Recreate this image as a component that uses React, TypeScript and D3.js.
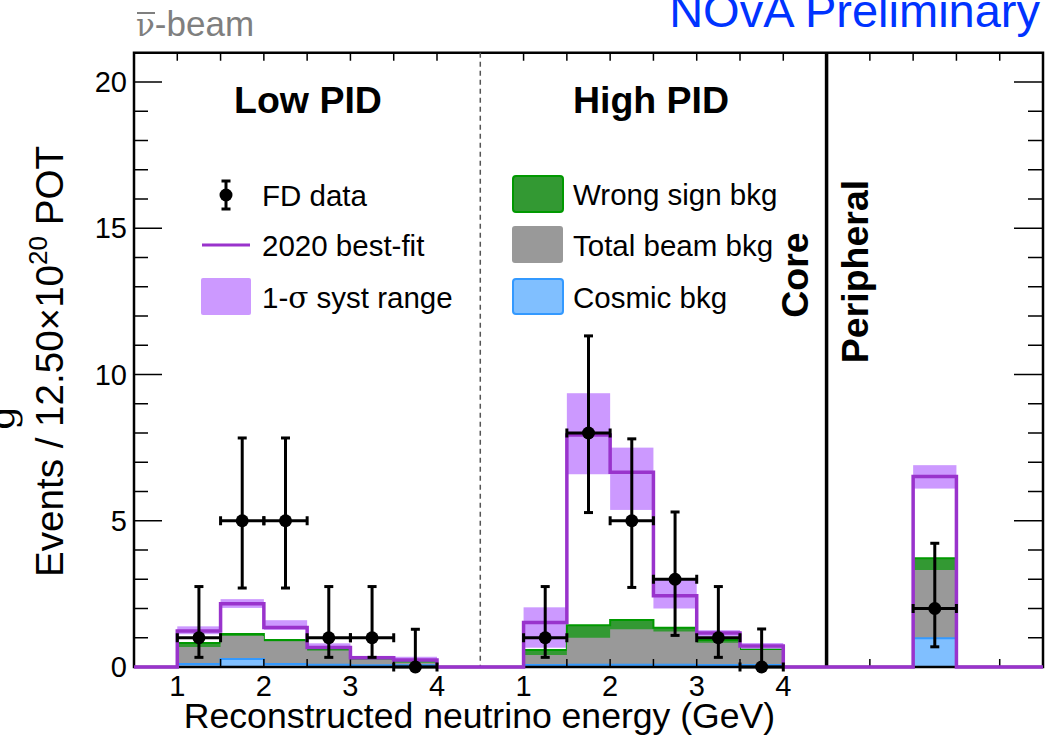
import React from "react";
import * as d3 from "d3";

// ---------- data ----------
const binLowEdges = [1, 1.5, 2, 2.5, 3, 3.5]; // GeV, width 0.5
const binWidth = 0.5;
const energyTickLabels = [1, 2, 3, 4];
const yMajorTicks = [0, 5, 10, 15, 20];

const lowBestFit = [1.23, 2.16, 1.35, 0.67, 0.32, 0.24];
const lowBandHi = [1.39, 2.32, 1.6, 0.81, 0.38, 0.35];
const lowBandLo = [1.12, 2.02, 1.27, 0.6, 0.26, 0.17];
const lowWrongSign = [0.82, 1.13, 0.92, 0.6, 0.28, 0.16];
const lowBeam = [0.68, 1.06, 0.88, 0.56, 0.26, 0.15];
const lowCosmic = [0.1, 0.27, 0.1, 0.08, 0.06, 0.06];
const lowData = [1, 5, 5, 1, 1, 0];
const lowDataLo = [0.33, 2.7, 2.7, 0.33, 0.33, 0];
const lowDataHi = [2.75, 7.83, 7.83, 2.75, 2.75, 1.29];

const highBestFit = [1.52, 7.93, 6.66, 2.44, 1.16, 0.72];
const highBandHi = [2.04, 9.36, 7.5, 3.0, 1.26, 0.82];
const highBandLo = [0.66, 6.59, 5.37, 2.0, 1.04, 0.55];
const highWrongSign = [0.58, 1.43, 1.61, 1.34, 0.92, 0.59];
const highBeam = [0.41, 1.0, 1.29, 1.21, 0.83, 0.58];
const highCosmic = [0.07, 0.08, 0.08, 0.08, 0.07, 0.07];
const highData = [1, 8, 5, 3, 1, 0];
const highDataLo = [0.33, 5.28, 2.72, 1.08, 0.33, 0];
const highDataHi = [2.75, 11.32, 7.8, 5.3, 2.75, 1.3];

const periBestFit = [0, 0, 6.51, 0, 0];
const periBandHi = [0, 0, 6.9, 0, 0];
const periBandLo = [0, 0, 6.1, 0, 0];
const periWrongSign = [0, 0, 3.72, 0, 0];
const periBeam = [0, 0, 3.32, 0, 0];
const periCosmic = [0, 0, 0.98, 0, 0];
const periData = [2];
const periDataLo = [0.69];
const periDataHi = [4.23];
const periDataBin = [2];

// ---------- layout ----------
const W = 1053;
const H = 736;
const FONT = "'Liberation Sans', Arial, Helvetica, sans-serif";
const SERIF = "'DejaVu Serif', 'Liberation Serif', serif";
const PURPLE = "#9933cc";
const LILAC = "#cc99ff";
const GREEN = "#339933";
const GREEN_LINE = "#009900";
const GRAY = "#999999";
const BLUE = "#80bfff";
const BLUE_LINE = "#3399ff";

const x = d3.scaleLinear().domain([0, 10.5]).range([134, 1043]);
const y = d3.scaleLinear().domain([0, 21]).range([667, 52.75]);

const LOW_OFF = -0.5;
const HIGH_OFF = 3.5;
const PERI_START = 8;

type Bin = { u0: number; u1: number; v: number };

function sectionBins(vals: number[], off: number): Bin[] {
  const bins: Bin[] = [];
  bins.push({ u0: 0.5 + off, u1: 1 + off, v: 0 });
  binLowEdges.forEach((e, i) => bins.push({ u0: e + off, u1: e + binWidth + off, v: vals[i] }));
  bins.push({ u0: 4 + off, u1: 4.5 + off, v: 0 });
  return bins;
}
function periBins(vals: number[]): Bin[] {
  return vals.map((v, k) => ({ u0: PERI_START + k * binWidth, u1: PERI_START + (k + 1) * binWidth, v }));
}
function allBins(low: number[], high: number[], peri: number[]): Bin[] {
  return [...sectionBins(low, LOW_OFF), ...sectionBins(high, HIGH_OFF), ...periBins(peri)];
}

const bestFitBins = allBins(lowBestFit, highBestFit, periBestFit);
const bandHiBins = allBins(lowBandHi, highBandHi, periBandHi);
const bandLoBins = allBins(lowBandLo, highBandLo, periBandLo);
const wsBins = allBins(lowWrongSign, highWrongSign, periWrongSign);
const beamBins = allBins(lowBeam, highBeam, periBeam);
const cosBins = allBins(lowCosmic, highCosmic, periCosmic);

const stepLine = d3
  .line<[number, number]>()
  .x((d) => x(d[0]))
  .y((d) => y(d[1]));
function stepPoints(bins: Bin[]): [number, number][] {
  const pts: [number, number][] = [];
  bins.forEach((b) => {
    pts.push([b.u0, b.v]);
    pts.push([b.u1, b.v]);
  });
  return pts;
}
const stepArea = d3
  .area<[number, number]>()
  .x((d) => x(d[0]))
  .y0(y(0))
  .y1((d) => y(d[1]));

type Pt = { u: number; v: number; lo: number; hi: number };
const dataPoints: Pt[] = [
  ...lowData.map((v, i) => ({ u: binLowEdges[i] + binWidth / 2 + LOW_OFF, v, lo: lowDataLo[i], hi: lowDataHi[i] })),
  ...highData.map((v, i) => ({ u: binLowEdges[i] + binWidth / 2 + HIGH_OFF, v, lo: highDataLo[i], hi: highDataHi[i] })),
  ...periData.map((v, i) => ({
    u: PERI_START + (periDataBin[i] + 0.5) * binWidth,
    v,
    lo: periDataLo[i],
    hi: periDataHi[i],
  })),
];

const edgeTicks: number[] = [
  ...[1, 1.5, 2, 2.5, 3, 3.5, 4].map((e) => e + LOW_OFF),
  ...[1, 1.5, 2, 2.5, 3, 3.5, 4].map((e) => e + HIGH_OFF),
  ...[1, 2, 3, 4].map((k) => PERI_START + k * binWidth),
];
const yMinor = d3.range(0, 22).filter((v) => !yMajorTicks.includes(v));

function ErrPoint({ cx, cy, top, bot, left, right }: any) {
  const cap = 4.5;
  return (
    <g stroke="#000" strokeWidth={3}>
      <line x1={left} x2={right} y1={cy} y2={cy} />
      <line x1={left} x2={left} y1={cy - cap} y2={cy + cap} />
      <line x1={right} x2={right} y1={cy - cap} y2={cy + cap} />
      <line x1={cx} x2={cx} y1={top} y2={bot} />
      <line x1={cx - cap} x2={cx + cap} y1={top} y2={top} />
      {bot !== cy && <line x1={cx - cap} x2={cx + cap} y1={bot} y2={bot} />}
      <circle cx={cx} cy={cy} r={6.5} fill="#000" stroke="none" />
    </g>
  );
}

export default function App() {
  const x0 = x(0);
  const x1 = x(10.5);
  const yTop = y(21);
  const yBot = y(0);
  const legFont = 29.5;
  return (
    <svg
      width={W}
      height={H}
      style={{ position: "absolute", left: 0, top: 0, background: "#fff" }}
      fontFamily={FONT}
    >
      <rect x={0} y={0} width={W} height={H} fill="#fff" />

      {/* systematic band */}
      {bandHiBins.map((b, i) =>
        b.v > 0 ? (
          <rect
            key={"band" + i}
            x={x(b.u0)}
            width={x(b.u1) - x(b.u0)}
            y={y(b.v)}
            height={y(bandLoBins[i].v) - y(b.v)}
            fill={LILAC}
          />
        ) : null
      )}

      {/* stacked backgrounds */}
      <path d={stepArea(stepPoints(wsBins)) || ""} fill={GREEN} />
      <path d={stepLine(stepPoints(wsBins)) || ""} fill="none" stroke={GREEN_LINE} strokeWidth={2} />
      <path d={stepArea(stepPoints(beamBins)) || ""} fill={GRAY} />
      <path d={stepArea(stepPoints(cosBins)) || ""} fill={BLUE} />
      <path d={stepLine(stepPoints(cosBins)) || ""} fill="none" stroke={BLUE_LINE} strokeWidth={2} />

      {/* frame */}
      <rect x={x0} y={yTop} width={x1 - x0} height={yBot - yTop} fill="none" stroke="#000" strokeWidth={2.5} />
      <line x1={x(4)} x2={x(4)} y1={yTop} y2={yBot} stroke="#555" strokeWidth={1.5} strokeDasharray="5,4" />
      <line x1={x(8)} x2={x(8)} y1={yTop} y2={yBot} stroke="#000" strokeWidth={3.5} />

      {/* x ticks top/bottom */}
      {edgeTicks.map((u, i) => (
        <g key={"xt" + i} stroke="#000" strokeWidth={1.5}>
          <line x1={x(u)} x2={x(u)} y1={yTop} y2={yTop + 8} />
          <line x1={x(u)} x2={x(u)} y1={yBot} y2={yBot - 8} />
        </g>
      ))}
      {/* y ticks left/right */}
      {yMajorTicks.map((v) => (
        <g key={"ym" + v} stroke="#000" strokeWidth={1.5}>
          <line x1={x0} x2={x0 + 28} y1={y(v)} y2={y(v)} />
          <line x1={x1} x2={x1 - 29} y1={y(v)} y2={y(v)} />
        </g>
      ))}
      {yMinor.map((v) => (
        <g key={"yn" + v} stroke="#000" strokeWidth={1.5}>
          <line x1={x0} x2={x0 + 14} y1={y(v)} y2={y(v)} />
          <line x1={x1} x2={x1 - 15} y1={y(v)} y2={y(v)} />
        </g>
      ))}

      {/* best fit */}
      <path
        d={stepLine(stepPoints(bestFitBins)) || ""}
        fill="none"
        stroke={PURPLE}
        strokeWidth={3.5}
        strokeLinejoin="miter"
      />

      {/* data */}
      {dataPoints.map((p, i) => (
        <ErrPoint
          key={"d" + i}
          cx={x(p.u)}
          cy={y(p.v)}
          top={y(p.hi)}
          bot={y(p.lo)}
          left={x(p.u - binWidth / 2)}
          right={x(p.u + binWidth / 2)}
        />
      ))}

      {/* tick labels */}
      {yMajorTicks.map((v) => (
        <text key={"yl" + v} x={127} y={y(v) + 10} fontSize={29} textAnchor="end" fill="#000">
          {v}
        </text>
      ))}
      {[LOW_OFF, HIGH_OFF].map((off) =>
        energyTickLabels.map((e) => (
          <text key={"xl" + off + e} x={x(e + off)} y={696} fontSize={29} textAnchor="middle" fill="#000">
            {e}
          </text>
        ))
      )}

      {/* axis titles */}
      <text x={479.5} y={728} fontSize={35.6} textAnchor="middle" fill="#000">
        Reconstructed neutrino energy (GeV)
      </text>
      <text transform="translate(63,361.5) rotate(-90)" fontSize={38.6} textAnchor="middle" fill="#000">
        Events / 12.50×10<tspan dy={-16} fontSize={26}>20</tspan>
        <tspan dy={16}> POT</tspan>
      </text>
      <text transform="translate(14,430) rotate(-90)" fontSize={38} fontFamily={SERIF} fill="#000">
        g
      </text>

      {/* headers */}
      <text x={136} y={36} fontSize={35} fill="#7f7f7f">
        <tspan fontFamily={SERIF} fontSize={31}>ν</tspan>-beam
      </text>
      <line x1={137} x2={155} y1={13} y2={13} stroke="#7f7f7f" strokeWidth={2} />
      <text x={1040} y={27} fontSize={47} textAnchor="end" fill="#0033ff">
        NOvA Preliminary
      </text>

      <text x={308} y={113} fontSize={37.5} fontWeight="bold" textAnchor="middle" fill="#000">
        Low PID
      </text>
      <text x={651} y={113} fontSize={37.5} fontWeight="bold" textAnchor="middle" fill="#000">
        High PID
      </text>
      <text transform="translate(808,275) rotate(-90)" fontSize={37.5} fontWeight="bold" textAnchor="middle" fill="#000">
        Core
      </text>
      <text transform="translate(868,271.5) rotate(-90)" fontSize={37.5} fontWeight="bold" textAnchor="middle" fill="#000">
        Peripheral
      </text>

      {/* legend left */}
      <g>
        <ErrPoint cx={226} cy={195} top={181} bot={209} left={226} right={226} />
        <text x={262} y={195 + 10.5} fontSize={legFont} fill="#000">FD data</text>
        <line x1={202} x2={250} y1={245} y2={245} stroke={PURPLE} strokeWidth={3} />
        <text x={262} y={245 + 10.5} fontSize={legFont} fill="#000">2020 best-fit</text>
        <rect x={201} y={278} width={50} height={37} fill={LILAC} rx={2} />
        <text x={262} y={297 + 10.5} fontSize={legFont} fill="#000">
          1-<tspan fontFamily={SERIF}>σ</tspan> syst range
        </text>
      </g>
      {/* legend right */}
      <g>
        <rect x={513} y={176} width={50} height={36} fill={GREEN} stroke={GREEN_LINE} strokeWidth={2} rx={3} />
        <text x={573} y={194 + 10.5} fontSize={legFont} fill="#000">Wrong sign bkg</text>
        <rect x={512} y={226} width={51} height={37} fill={GRAY} rx={3} />
        <text x={573} y={245 + 10.5} fontSize={legFont} fill="#000">Total beam bkg</text>
        <rect x={513} y={279} width={50} height={35} fill={BLUE} stroke={BLUE_LINE} strokeWidth={2} rx={3} />
        <text x={573} y={297 + 10.5} fontSize={legFont} fill="#000">Cosmic bkg</text>
      </g>
    </svg>
  );
}
